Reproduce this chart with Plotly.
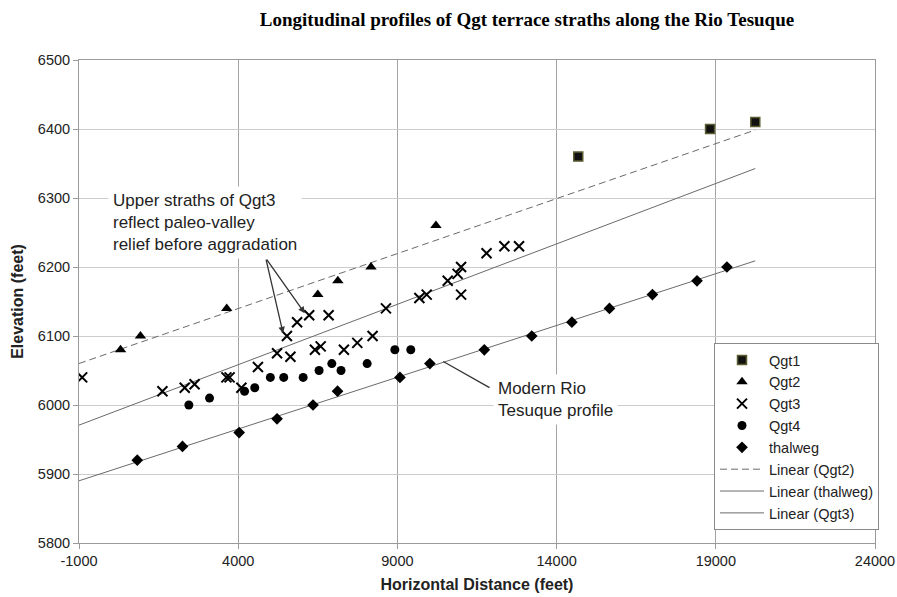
import numpy as np
import plotly.graph_objects as go

# ---------------- data ----------------
qgt1_x = [14680, 18820, 20240]
qgt1_y = [6360, 6400, 6410]

qgt2_x = [305, 930, 3640, 6500, 7130, 8170, 10210]
qgt2_y = [6080, 6100, 6140, 6160, 6180, 6200, 6260]

qgt3_x = [-900, 1620, 2320, 2630, 3630, 3730, 4100, 4620, 5220, 5530, 5640, 5850,
          6230, 6410, 6590, 6840, 7320, 7740, 8220, 8640, 9690, 9920, 10580, 10890,
          11000, 11000, 11800, 12360, 12820]
qgt3_y = [6040, 6020, 6025, 6030, 6040, 6040, 6025, 6055, 6075, 6100, 6070, 6120,
          6130, 6080, 6085, 6130, 6080, 6090, 6100, 6140, 6155, 6160, 6180, 6190,
          6200, 6160, 6220, 6230, 6230]

qgt4_x = [2450, 3100, 4200, 4520, 5010, 5430, 6040, 6540, 6940, 7230, 8050, 8920, 9420]
qgt4_y = [6000, 6010, 6020, 6025, 6040, 6040, 6040, 6050, 6060, 6050, 6060, 6080, 6080]

thal_x = [830, 2250, 4030, 5220, 6350, 7120, 9080, 10020, 11730, 13220, 14480, 15660,
          17010, 18410, 19350]
thal_y = [5920, 5940, 5960, 5980, 6000, 6020, 6040, 6060, 6080, 6100, 6120, 6140,
          6160, 6180, 6200]

x_ticks = [-1000, 4000, 9000, 14000, 19000, 24000]
y_ticks = [5800, 5900, 6000, 6100, 6200, 6300, 6400, 6500]

title = "Longitudinal profiles of Qgt terrace straths along the Rio Tesuque"

# ---------------- figure ----------------
X_RANGE = [x_ticks[0], x_ticks[-1]]
Y_RANGE = [y_ticks[0], y_ticks[-1]]
x_end = max(qgt1_x + qgt2_x + qgt3_x + qgt4_x + thal_x)

SANS = "Liberation Sans, Arial, sans-serif"
fig = go.Figure()


def trend(xs, ys):
    m, b = np.polyfit(np.array(xs, float), np.array(ys, float), 1)
    xx = np.array([X_RANGE[0], x_end], float)
    return xx, m * xx + b


# trend lines first (drawn below markers)
for name, xs, ys, dash, rank in [
    ("Linear (Qgt2)", qgt2_x, qgt2_y, "7px,4px", 6),
    ("Linear (thalweg)", thal_x, thal_y, "solid", 7),
    ("Linear (Qgt3)", qgt3_x, qgt3_y, "solid", 8),
]:
    tx, ty = trend(xs, ys)
    fig.add_trace(go.Scatter(x=tx, y=ty, mode="lines", name=name, legendrank=rank,
                             line=dict(color="#6a6a6a", width=1, dash=dash),
                             hoverinfo="skip"))

fig.add_trace(go.Scatter(x=qgt1_x, y=qgt1_y, mode="markers", name="Qgt1", legendrank=1,
                         marker=dict(symbol="square", size=9, color="#111111",
                                     line=dict(color="#5c5c32", width=1.5))))
fig.add_trace(go.Scatter(x=qgt2_x, y=qgt2_y, mode="markers", name="Qgt2", legendrank=2,
                         marker=dict(symbol="triangle-up", size=10, color="black")))
fig.add_trace(go.Scatter(x=qgt3_x, y=qgt3_y, mode="markers", name="Qgt3", legendrank=3,
                         marker=dict(symbol="x-thin-open", size=10, color="black",
                                     line=dict(color="black", width=2))))
fig.add_trace(go.Scatter(x=qgt4_x, y=qgt4_y, mode="markers", name="Qgt4", legendrank=4,
                         marker=dict(symbol="circle", size=9, color="black")))
fig.add_trace(go.Scatter(x=thal_x, y=thal_y, mode="markers", name="thalweg", legendrank=5,
                         marker=dict(symbol="diamond", size=9, color="black")))

ann = []
# arrows for the Qgt3 note
for hx, hy in [(5410, 6104), (6090, 6133)]:
    ann.append(dict(x=hx, y=hy, ax=4865, ay=6213, xref="x", yref="y", axref="x", ayref="y",
                    text="", showarrow=True, arrowhead=2, arrowsize=1, arrowwidth=1.3,
                    arrowcolor="#333333"))
ann.append(dict(x=-82, y=6265, xref="x", yref="y", xanchor="left", yanchor="middle",
                text="Upper straths of Qgt3<br>reflect paleo-valley<br>relief before aggradation",
                align="left", showarrow=False, bgcolor="white", borderpad=4,
                font=dict(family=SANS, size=17, color="#222222")))
# modern river note
ann.append(dict(x=10440, y=6063, ax=11940, ay=6024, xref="x", yref="y", axref="x", ayref="y",
                text="", showarrow=True, arrowhead=0, arrowwidth=1.3, arrowcolor="#333333"))
ann.append(dict(x=12000, y=6008, xref="x", yref="y", xanchor="left", yanchor="middle",
                text="Modern Rio<br>Tesuque profile", align="left", showarrow=False,
                bgcolor="white", borderpad=4,
                font=dict(family=SANS, size=17, color="#222222")))

fig.update_layout(
    width=897, height=597,
    margin=dict(l=79, r=22, t=60, b=54),
    paper_bgcolor="white", plot_bgcolor="white",
    title=dict(text="<b>" + title + "</b>", x=527 / 897, xref="container", xanchor="center",
               y=1 - 19 / 597, yref="container", yanchor="middle",
               font=dict(family="Liberation Serif, Times New Roman, serif", size=19,
                         color="black")),
    font=dict(family=SANS, size=14.5, color="#222222"),
    showlegend=True,
    legend=dict(x=(714 - 79) / 796, y=(543 - 343) / 483, xanchor="left", yanchor="top",
                bgcolor="white", bordercolor="#8a8a8a", borderwidth=1,
                itemwidth=44, tracegroupgap=0,
                font=dict(family=SANS, size=14.5, color="#222222"),
                traceorder="normal"),
    annotations=ann,
)

fig.update_xaxes(range=X_RANGE, tickvals=x_ticks, ticktext=[str(v) for v in x_ticks],
                 showgrid=True, gridcolor="#a3a3a3", gridwidth=1,
                 showline=True, linecolor="#9a9a9a", linewidth=1, mirror=True,
                 ticks="outside", ticklen=5, tickcolor="#9a9a9a",
                 zeroline=False, tickfont=dict(family=SANS, size=14.5, color="#222222"),
                 title=dict(text="<b>Horizontal Distance (feet)</b>", standoff=10,
                            font=dict(family=SANS, size=16, color="#222222")),
                 automargin=False)
fig.update_yaxes(range=Y_RANGE, tickvals=y_ticks, ticktext=[str(v) for v in y_ticks],
                 showgrid=True, gridcolor="#cccccc", gridwidth=1,
                 showline=True, linecolor="#9a9a9a", linewidth=1, mirror=True,
                 ticks="outside", ticklen=5, tickcolor="#9a9a9a",
                 zeroline=False, tickfont=dict(family=SANS, size=14.5, color="#222222"),
                 title=dict(text="<b>Elevation (feet)</b>", standoff=10,
                            font=dict(family=SANS, size=16, color="#222222")),
                 automargin=False)

fig.write_html("out.html", config={"displayModeBar": False},
               post_script="document.body.style.margin='0';document.body.style.overflow='hidden';")
